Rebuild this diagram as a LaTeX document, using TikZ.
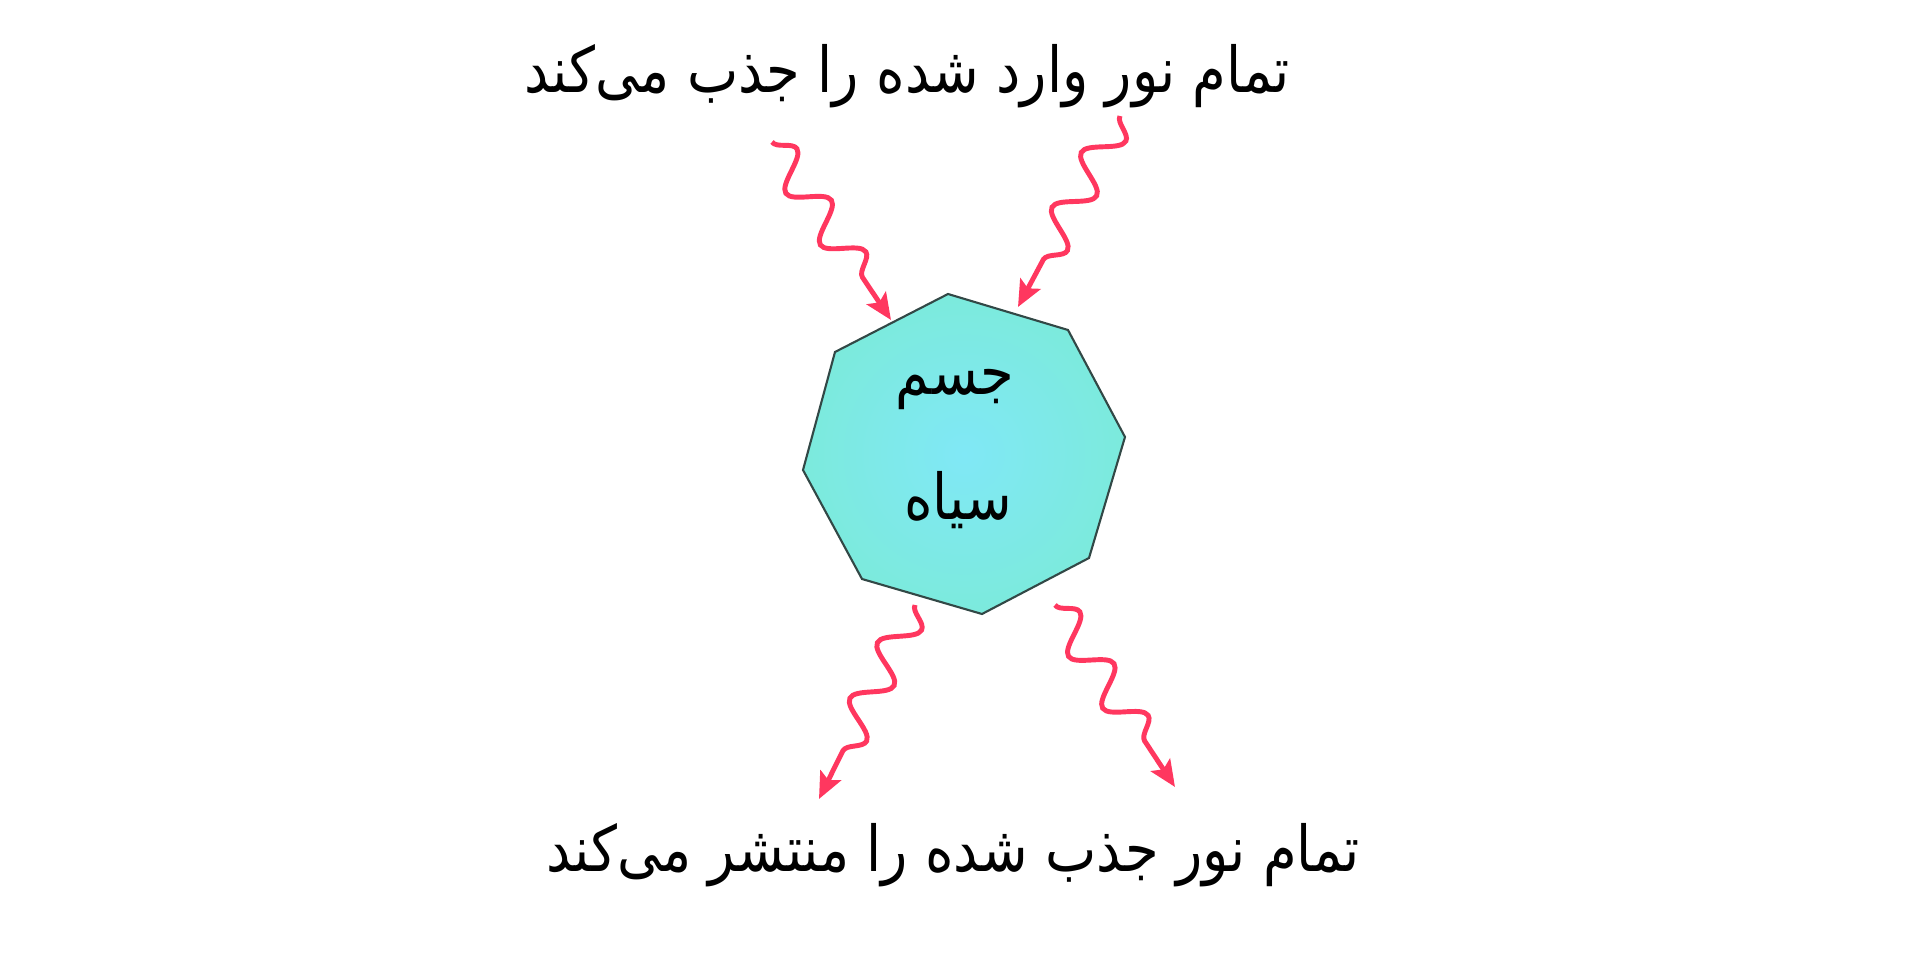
\documentclass[tikz,border=0pt]{standalone}
\usepackage{fontspec}
\newfontfamily\arabicfont[Script=Arabic, FakeStretch=0.86]{DejaVu Sans}
\TeXXeTstate=1
\usetikzlibrary{arrows.meta,decorations.pathmorphing}

\definecolor{wavered}{RGB}{255,55,95}
\definecolor{bodyin}{RGB}{128,232,246}
\definecolor{bodyout}{RGB}{124,234,220}
\definecolor{bodyedge}{RGB}{50,72,70}

\begin{document}
\begin{tikzpicture}[x=0.01cm, y=-0.01cm,
        farsi/.style={font=\arabicfont\fontsize{18}{22}\selectfont, inner sep=0pt},
        ray/.style={draw=wavered, line width=1.4pt, -{Stealth[length=7.5pt,width=6.5pt,inset=1.5pt]},
            decorate, decoration={snake, amplitude=0.17cm, segment length=0.62cm, post length=0.26cm}},
        >=stealth
    ]
        \useasboundingbox (0,0) rectangle (1920,961);

        % Black body
        \coordinate (p1) at (948,294);
        \coordinate (p2) at (1068,330);
        \coordinate (p3) at (1125,437);
        \coordinate (p4) at (1089,558);
        \coordinate (p5) at (982,614);
        \coordinate (p6) at (862,579);
        \coordinate (p7) at (803,470);
        \coordinate (p8) at (835,352);
        \shadedraw [draw=bodyedge, line width=0.6pt, inner color=bodyin, outer color=bodyout]
            (p1) -- (p2) -- (p3) -- (p4) -- (p5) -- (p6) -- (p7) -- (p8) -- cycle;

        \node [farsi] (bodytop) at (955,390) {\beginR جسم\endR};
        \node [farsi] (bodybot) at (958,500) {\beginR سیاه\endR};

        % Captions
        \node [farsi] (absorb) at (907,76) {\beginR تمام نور وارد شده را جذب می^^^^200cکند\endR};
        \node [farsi] (emit) at (953,855) {\beginR تمام نور جذب شده را منتشر می^^^^200cکند\endR};

        % Incoming light
        \coordinate (inleft) at (772,142);
        \coordinate (hitleft) at (891,320);
        \coordinate (inright) at (1120,116);
        \coordinate (hitright) at (1018,307);
        \draw [ray] (inleft) -- (hitleft);
        \draw [ray] (inright) -- (hitright);

        % Emitted light
        \coordinate (outleft) at (915,605);
        \coordinate (endleft) at (819,799);
        \coordinate (outright) at (1055,605);
        \coordinate (endright) at (1175,787);
        \draw [ray] (outleft) -- (endleft);
        \draw [ray] (outright) -- (endright);
    \end{tikzpicture}
\end{document}
